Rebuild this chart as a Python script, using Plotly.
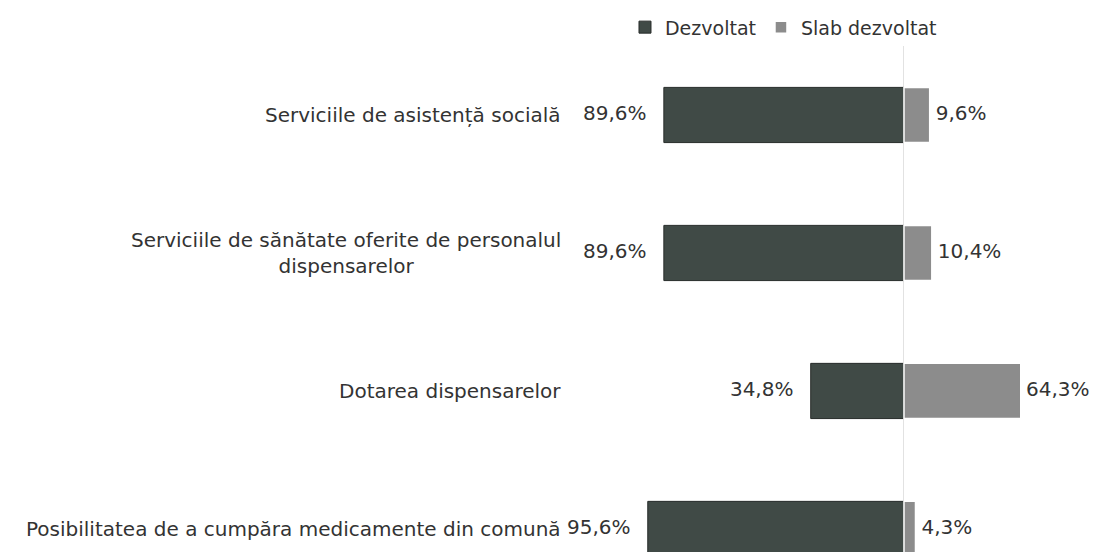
import plotly.graph_objects as go

categories = [
    "Serviciile de asistență socială",
    "Serviciile de sănătate oferite de personalul<br>dispensarelor",
    "Dotarea dispensarelor",
    "Posibilitatea de a cumpăra medicamente din comună",
]
dezvoltat = [89.6, 89.6, 34.8, 95.6]
slab_dezvoltat = [9.6, 10.4, 64.3, 4.3]
dezvoltat_labels = ["89,6%", "89,6%", "34,8%", "95,6%"]
slab_labels = ["9,6%", "10,4%", "64,3%", "4,3%"]

X_MIN, X_MAX = -98.5, 43.3
FONT = "DejaVu Sans"
TXT = "#333333"
DARK = "#404a46"
LIGHT = "#8c8c8c"

rows = list(range(len(categories)))

fig = go.Figure()
fig.add_trace(go.Bar(
    y=rows, x=[-v for v in dezvoltat], orientation="h", name="Dezvoltat",
    marker=dict(color=DARK, line=dict(color="#272c2a", width=1)),
    width=0.4, hoverinfo="skip",
))
fig.add_trace(go.Bar(
    y=rows, x=slab_dezvoltat, orientation="h", name="Slab dezvoltat",
    marker=dict(color=LIGHT, line=dict(color="#ffffff", width=1.5)),
    width=0.4, hoverinfo="skip",
))
fig.add_trace(go.Scatter(
    y=rows, x=[-v for v in dezvoltat], mode="markers+text", text=dezvoltat_labels,
    textposition="middle left",
    marker=dict(size=26, color="rgba(0,0,0,0)"),
    textfont=dict(family=FONT, size=20, color=TXT),
    cliponaxis=False, showlegend=False, hoverinfo="skip",
))
fig.add_trace(go.Scatter(
    y=rows, x=[min(v, X_MAX) for v in slab_dezvoltat], mode="markers+text", text=slab_labels,
    textposition="middle right",
    marker=dict(size=8, color="rgba(0,0,0,0)"),
    textfont=dict(family=FONT, size=20, color=TXT),
    cliponaxis=False, showlegend=False, hoverinfo="skip",
))

for i, c in enumerate(categories):
    fig.add_annotation(
        x=-0.2026, xref="paper", y=i, yref="y", text=c, showarrow=False,
        xanchor="right", yanchor="middle", align="center",
        font=dict(family=FONT, size=20, color=TXT),
    )

fig.update_layout(
    width=1094, height=544,
    margin=dict(l=632, r=82, t=38, b=0),
    paper_bgcolor="white", plot_bgcolor="white",
    barmode="relative", bargap=0.6,
    font=dict(family=FONT, size=20, color=TXT),
    showlegend=True,
    legend=dict(
        orientation="h", x=-0.0395, xanchor="left", y=1.037, yanchor="middle",
        font=dict(family=FONT, size=19, color=TXT), itemwidth=30,
        traceorder="normal", bgcolor="rgba(0,0,0,0)",
    ),
    xaxis=dict(range=[X_MIN, X_MAX], showgrid=False, showticklabels=False,
               zeroline=True, zerolinecolor="#e2e2e2", zerolinewidth=1,
               showline=False, fixedrange=True),
    yaxis=dict(range=[3.167, -0.5], showgrid=False, showticklabels=False,
               zeroline=False, showline=False, fixedrange=True),
)

fig.write_html("out.html")
